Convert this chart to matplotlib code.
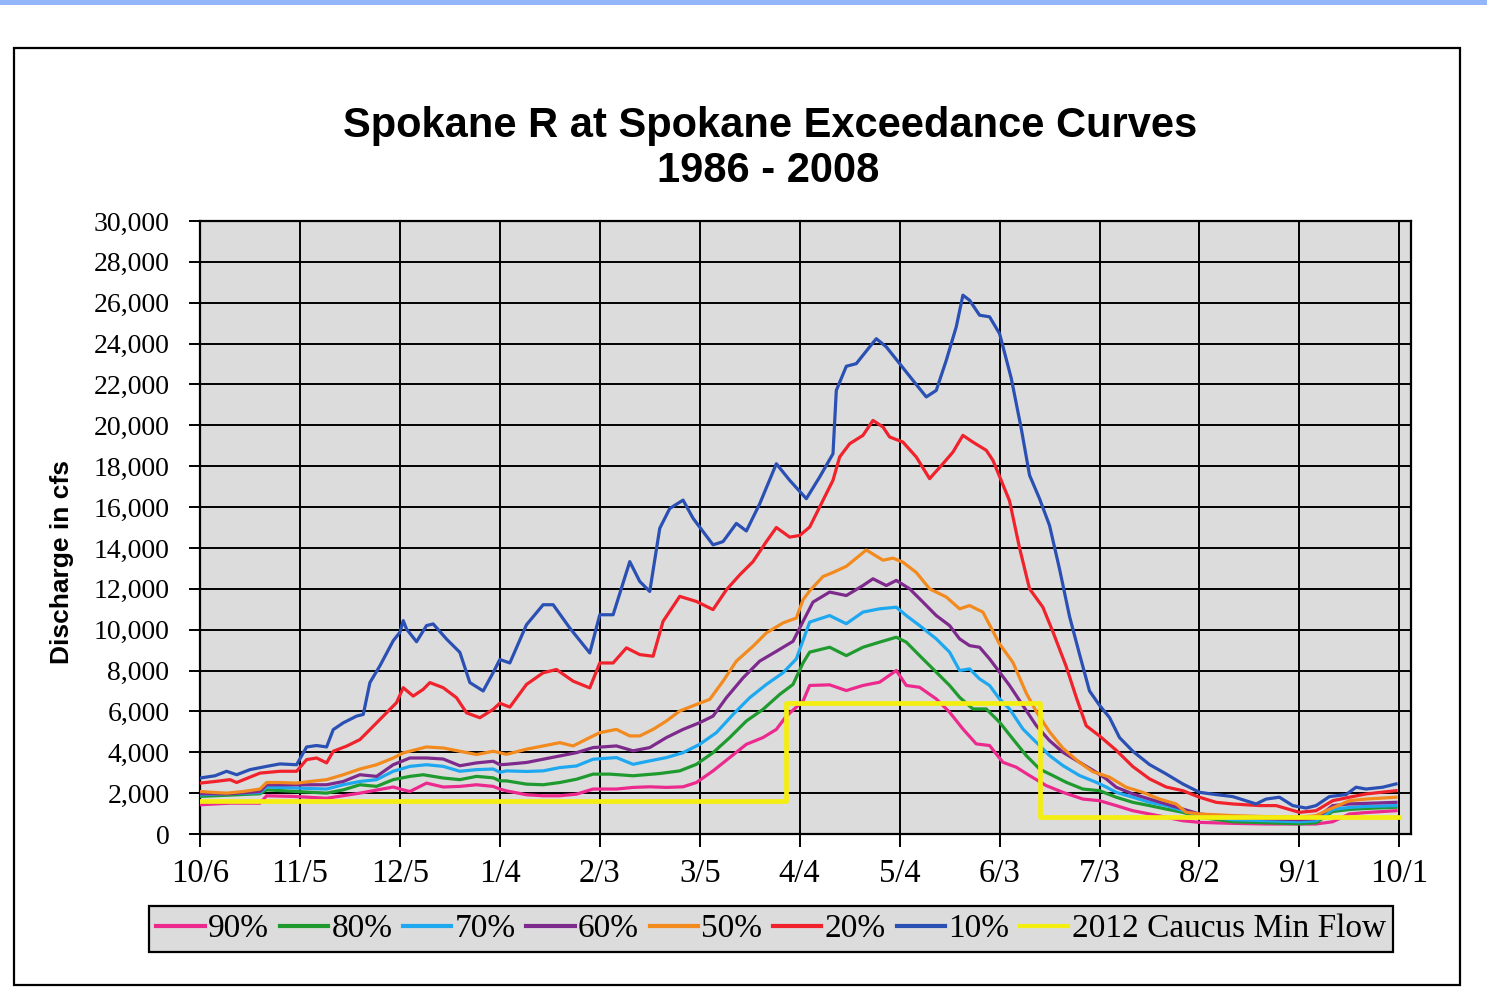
import matplotlib
matplotlib.use("Agg")
import matplotlib.pyplot as plt
from matplotlib.lines import Line2D
from matplotlib.patches import Rectangle
from matplotlib.ticker import FuncFormatter, FixedLocator

# ---------------- data (days after Oct 6, discharge in cfs) ----------------
tick_days = [0, 30, 60, 90, 120, 150, 180, 210, 240, 270, 300, 330, 360]
tick_labels = ["10/6", "11/5", "12/5", "1/4", "2/3", "3/5", "4/4", "5/4",
               "6/3", "7/3", "8/2", "9/1", "10/1"]

p90_days = [0, 9, 18, 20, 28, 38, 48, 58, 61, 63, 68, 73, 78, 83, 88, 90, 92, 98,
            103, 108, 113, 118, 125, 130, 135, 140, 145, 149, 154, 159, 164, 169,
            173, 176, 181, 183, 189, 194, 199, 204, 209, 212, 216, 221, 225, 229,
            233, 237, 241, 245, 249, 254, 259, 265, 270, 275, 280, 285, 290, 295,
            300, 310, 320, 330, 335, 340, 345, 350, 359]
p90_cfs = [1430, 1510, 1510, 1870, 1840, 1750, 2000, 2300, 2160, 2080, 2490, 2300,
           2330, 2410, 2330, 2200, 2110, 1920, 1870, 1870, 1950, 2200, 2200, 2280,
           2310, 2280, 2310, 2520, 3090, 3740, 4390, 4720, 5120, 5770, 6500, 7270,
           7300, 7020, 7270, 7430, 8000, 7270, 7180, 6610, 5960, 5140, 4410, 4330,
           3510, 3270, 2860, 2370, 2040, 1710, 1630, 1390, 1140, 980, 820, 650,
           570, 520, 490, 490, 490, 600, 980, 1050, 1140]

p80_days = [0, 18, 20, 29, 38, 43, 48, 53, 58, 63, 67, 73, 78, 83, 88, 90, 92, 98,
            103, 108, 113, 118, 123, 130, 138, 144, 149, 154, 159, 164, 169, 174,
            178, 181, 183, 189, 194, 199, 204, 209, 212, 216, 221, 225, 228, 232,
            236, 240, 244, 248, 252, 256, 260, 265, 270, 275, 280, 285, 290, 295,
            300, 310, 320, 330, 335, 340, 345, 350, 359]
p80_cfs = [1840, 1970, 2160, 2080, 2000, 2160, 2410, 2330, 2660, 2820, 2900, 2740,
           2660, 2820, 2750, 2600, 2600, 2440, 2410, 2520, 2680, 2930, 2930, 2850,
           2960, 3090, 3410, 3980, 4720, 5530, 6100, 6830, 7320, 8370, 8900, 9140,
           8730, 9140, 9390, 9630, 9390, 8730, 7920, 7270, 6690, 6120, 6120, 5470,
           4650, 3840, 3180, 2860, 2530, 2200, 2120, 1800, 1550, 1390, 1220, 1060,
           820, 600, 550, 500, 550, 1100, 1200, 1250, 1310]

p70_days = [0, 18, 20, 29, 38, 43, 48, 53, 58, 63, 68, 73, 78, 83, 88, 90, 92, 98,
            103, 108, 113, 118, 125, 130, 135, 140, 145, 150, 155, 160, 165, 170,
            175, 179, 183, 189, 194, 199, 204, 209, 212, 216, 221, 225, 228, 231,
            234, 237, 240, 243, 247, 251, 255, 259, 264, 269, 272, 275, 280, 285,
            290, 295, 300, 310, 320, 330, 335, 340, 345, 350, 359]
p70_cfs = [1920, 2030, 2300, 2250, 2200, 2410, 2570, 2660, 3070, 3310, 3390, 3310,
           3070, 3150, 3180, 3020, 3090, 3060, 3090, 3250, 3330, 3660, 3740, 3410,
           3580, 3740, 3980, 4390, 4960, 5850, 6670, 7320, 7890, 8570, 10370, 10690,
           10290, 10860, 11020, 11100, 10690, 10200, 9550, 8900, 8000, 8080, 7590,
           7270, 6610, 6120, 5140, 4490, 3840, 3350, 2860, 2530, 2300, 2040, 1800,
           1550, 1390, 1140, 900, 700, 650, 600, 650, 1200, 1300, 1350, 1390]

p60_days = [0, 9, 18, 20, 29, 38, 43, 48, 53, 58, 63, 68, 73, 78, 83, 88, 90, 92,
            98, 103, 108, 113, 118, 125, 130, 135, 140, 145, 150, 154, 158, 163,
            168, 173, 178, 181, 184, 189, 194, 199, 202, 206, 209, 213, 217, 221,
            225, 228, 231, 234, 237, 240, 243, 247, 251, 255, 259, 264, 269, 272,
            275, 280, 285, 290, 295, 300, 310, 320, 330, 335, 340, 345, 350, 359]
p60_cfs = [1970, 1970, 2080, 2410, 2410, 2410, 2570, 2900, 2820, 3390, 3720, 3720,
           3670, 3340, 3480, 3560, 3390, 3410, 3500, 3660, 3820, 3980, 4230, 4310,
           4070, 4230, 4720, 5120, 5450, 5770, 6670, 7640, 8460, 8940, 9430, 10400,
           11350, 11840, 11670, 12160, 12490, 12160, 12410, 12000, 11350, 10690,
           10200, 9550, 9220, 9140, 8570, 7920, 7270, 6290, 5310, 4570, 4000, 3510,
           3020, 2700, 2290, 1960, 1710, 1470, 1220, 980, 800, 750, 700, 750, 1390,
           1470, 1500, 1550]

p50_days = [0, 4.5, 8, 13, 18, 20, 24, 29, 33, 38, 43, 48, 53, 58, 61, 68, 73, 78,
            83, 88, 92, 98, 103, 108, 112, 117, 120, 125, 129, 132, 136, 140, 144,
            149, 153, 157, 161, 166, 170, 175, 179, 181, 183, 187, 190, 194, 197,
            200, 202, 205, 208, 211, 215, 219, 224, 228, 231, 235, 240, 244, 248,
            251, 255, 259, 264, 268, 273, 278, 283, 288, 293, 296, 300, 310, 320,
            330, 335, 338, 345, 350, 359]
p50_cfs = [2080, 2030, 2000, 2080, 2200, 2520, 2520, 2490, 2570, 2660, 2900, 3180,
           3390, 3720, 3970, 4260, 4210, 4050, 3890, 4050, 3900, 4150, 4310, 4470,
           4310, 4720, 4960, 5120, 4800, 4800, 5120, 5530, 6020, 6340, 6590, 7480,
           8460, 9190, 9840, 10330, 10570, 11460, 11900, 12600, 12800, 13100,
           13500, 13900, 13700, 13400, 13500, 13300, 12800, 12000, 11600, 11020,
           11180, 10860, 9300, 8400, 6900, 6000, 5000, 4200, 3500, 3050, 2780,
           2290, 2040, 1710, 1470, 1060, 980, 900, 850, 820, 900, 1140, 1630,
           1710, 1800]

p20_days = [0, 4.5, 9, 11, 18, 24, 29, 32, 35, 38, 40, 44, 48, 51, 55, 59, 61, 64,
            67, 69, 73, 77, 80, 84, 88, 90, 93, 98, 103, 107, 112, 117, 120, 124,
            128, 132, 136, 139, 144, 149, 154, 158, 162, 166, 170, 173, 177, 180,
            183, 187, 190, 192, 195, 199, 202, 205, 207, 211, 215, 219, 223, 226,
            229, 232, 236, 238, 240, 243, 246, 249, 253, 256, 260, 263, 266, 270,
            275, 280, 285, 290, 295, 300, 305, 310, 318, 323, 330, 335, 340, 345,
            350, 359]
p20_cfs = [2490, 2570, 2660, 2520, 2980, 3070, 3070, 3640, 3720, 3480, 4050, 4300,
           4620, 5110, 5770, 6430, 7160, 6750, 7080, 7410, 7160, 6670, 5930, 5690,
           6100, 6400, 6210, 7320, 7890, 8050, 7480, 7150, 8370, 8370, 9110, 8780,
           8700, 10410, 11630, 11380, 10980, 11950, 12680, 13330, 14310, 15000,
           14530, 14610, 15020, 16330, 17310, 18450, 19100, 19510, 20240, 19920,
           19430, 19180, 18450, 17390, 18120, 18690, 19510, 19180, 18780, 18290,
           17500, 16300, 14000, 12000, 11100, 9900, 8200, 6700, 5300, 4800, 4100,
           3300, 2700, 2300, 2120, 1800, 1550, 1470, 1390, 1390, 1060, 1140, 1630,
           1800, 1960, 2120]

p10_days = [0, 4.5, 8, 11, 15, 20, 24, 29, 32, 35, 38, 40, 43, 47, 49, 51, 54, 58,
            60, 61, 62, 65, 68, 70, 74, 78, 81, 85, 88, 90, 93, 98, 103, 106, 111,
            117, 120, 124, 129, 132, 135, 138, 141, 145, 148, 154, 157, 161, 164,
            168, 173, 177, 182, 186, 190, 191, 194, 197, 201, 203, 206, 210, 214,
            218, 221, 224, 227, 229, 231, 234, 237, 240, 243.5, 246.5, 249, 252,
            255, 258, 261, 264, 267, 270, 273, 276, 280, 285, 290, 295, 300, 305,
            310, 317, 320, 324, 328, 332, 335, 339, 344, 347, 350, 355, 359]
p10_cfs = [2740, 2850, 3070, 2900, 3150, 3310, 3430, 3390, 4260, 4330, 4260, 5110,
           5440, 5770, 5850, 7410, 8230, 9460, 9870, 10440, 10030, 9410, 10200,
           10280, 9540, 8890, 7410, 7000, 7900, 8540, 8370, 10240, 11220, 11220,
           10080, 8860, 10730, 10730, 13330, 12360, 11870, 14960, 15930, 16340,
           15450, 14150, 14310, 15200, 14830, 16160, 18120, 17310, 16410, 17470,
           18610, 21710, 22890, 23020, 23840, 24240, 23840, 23020, 22200, 21390,
           21710, 23180, 24820, 26370, 26120, 25390, 25310, 24490, 22310, 19850,
           17560, 16410, 15100, 12970, 10650, 8800, 7000, 6300, 5700, 4720, 4050,
           3400, 2940, 2450, 2040, 1930, 1830, 1470, 1710, 1800, 1390, 1270, 1390,
           1830, 1930, 2290, 2200, 2290, 2450]

minflow_days = [0, 176, 252, 360]
minflow_cfs = [1600, 6400, 850, 850]

series_labels = ["90%", "80%", "70%", "60%", "50%", "20%", "10%"]
series_colors = ["#ec2a8e", "#1f9a2e", "#1ea8f0", "#7d2a8c", "#f28a1e", "#f0222c", "#2b50b4"]
minflow_label = "2012 Caucus Min Flow"
minflow_color = "#f4ee10"

# ---------------- figure ----------------
plt.rcParams["font.family"] = ["Liberation Serif", "DejaVu Serif"]
W, H = 1487, 990
fig = plt.figure(figsize=(W / 100, H / 100), dpi=100)
fig.patch.set_facecolor("white")

# top blue strip and outer frame
fig.patches.append(Rectangle((0, 1 - 5 / H), 1, 5 / H, transform=fig.transFigure,
                             facecolor="#93b6f8", edgecolor="none", zorder=0))
fig.patches.append(Rectangle((14 / W, 1 - 985 / H), (1460 - 14) / W, (985 - 48) / H,
                             transform=fig.transFigure, facecolor="none",
                             edgecolor="black", linewidth=1.6, zorder=1))

ax_l, ax_r, ax_t, ax_b = 200, 1411, 221, 834
ax = fig.add_axes([ax_l / W, 1 - ax_b / H, (ax_r - ax_l) / W, (ax_b - ax_t) / H])
ax.set_facecolor("#dcdcdc")

all_days = [p90_days, p80_days, p70_days, p60_days, p50_days, p20_days, p10_days]
all_cfs = [p90_cfs, p80_cfs, p70_cfs, p60_cfs, p50_cfs, p20_cfs, p10_cfs]
handles = []
for d, v, lab, col in zip(all_days, all_cfs, series_labels, series_colors):
    ln, = ax.plot(d, v, color=col, linewidth=2.3, label=lab, zorder=3,
                  solid_joinstyle="round")
    handles.append(ln)
mf, = ax.plot(minflow_days, minflow_cfs, color=minflow_color, linewidth=3.4,
              drawstyle="steps-post", label=minflow_label, zorder=4)
handles.append(mf)

ax.set_xlim(0, 363.5)
ax.set_ylim(0, 30000)
ax.xaxis.set_major_locator(FixedLocator(tick_days))
ax.set_xticklabels(tick_labels)
ax.set_yticks(range(0, 30001, 2000))
ax.yaxis.set_major_formatter(FuncFormatter(lambda v, p: f"{int(v):,}"))
ax.grid(True, color="black", linewidth=1.4)
ax.set_axisbelow(True)
for s in ax.spines.values():
    s.set_linewidth(1.6)
    s.set_color("black")
ax.tick_params(axis="y", direction="out", length=8, width=1.4, pad=14, labelsize=20)
ax.tick_params(axis="x", direction="out", length=9, width=1.4, pad=9, labelsize=23.5)

fig.text(62 / W, 1 - 562 / H, "Discharge in cfs", rotation=90, ha="center",
         va="center", fontsize=19, fontweight="bold",
         family=["Liberation Sans", "DejaVu Sans"])

fig.text(770 / W, 1 - 126 / H, "Spokane R at Spokane Exceedance Curves",
         ha="center", va="center", fontsize=30, fontweight="bold",
         family=["Liberation Sans", "DejaVu Sans"])
fig.text(768 / W, 1 - 171 / H, "1986 - 2008", ha="center", va="center",
         fontsize=30, fontweight="bold", family=["Liberation Sans", "DejaVu Sans"])

leg_handles = [Line2D([0], [0], color=h.get_color(), linewidth=3) for h in handles]
leg = fig.legend(leg_handles, series_labels + [minflow_label], loc="center",
                 bbox_to_anchor=(771 / W, 1 - 929 / H), ncol=8, fontsize=24,
                 handlelength=1.45, handletextpad=0.1, columnspacing=0.32,
                 borderpad=0.22, frameon=True, fancybox=False, borderaxespad=0)
fr = leg.get_frame()
fr.set_facecolor("#dcdcdc")
fr.set_edgecolor("black")
fr.set_linewidth(1.6)
fr.set_alpha(1)

fig.savefig("out.png", dpi=100)
